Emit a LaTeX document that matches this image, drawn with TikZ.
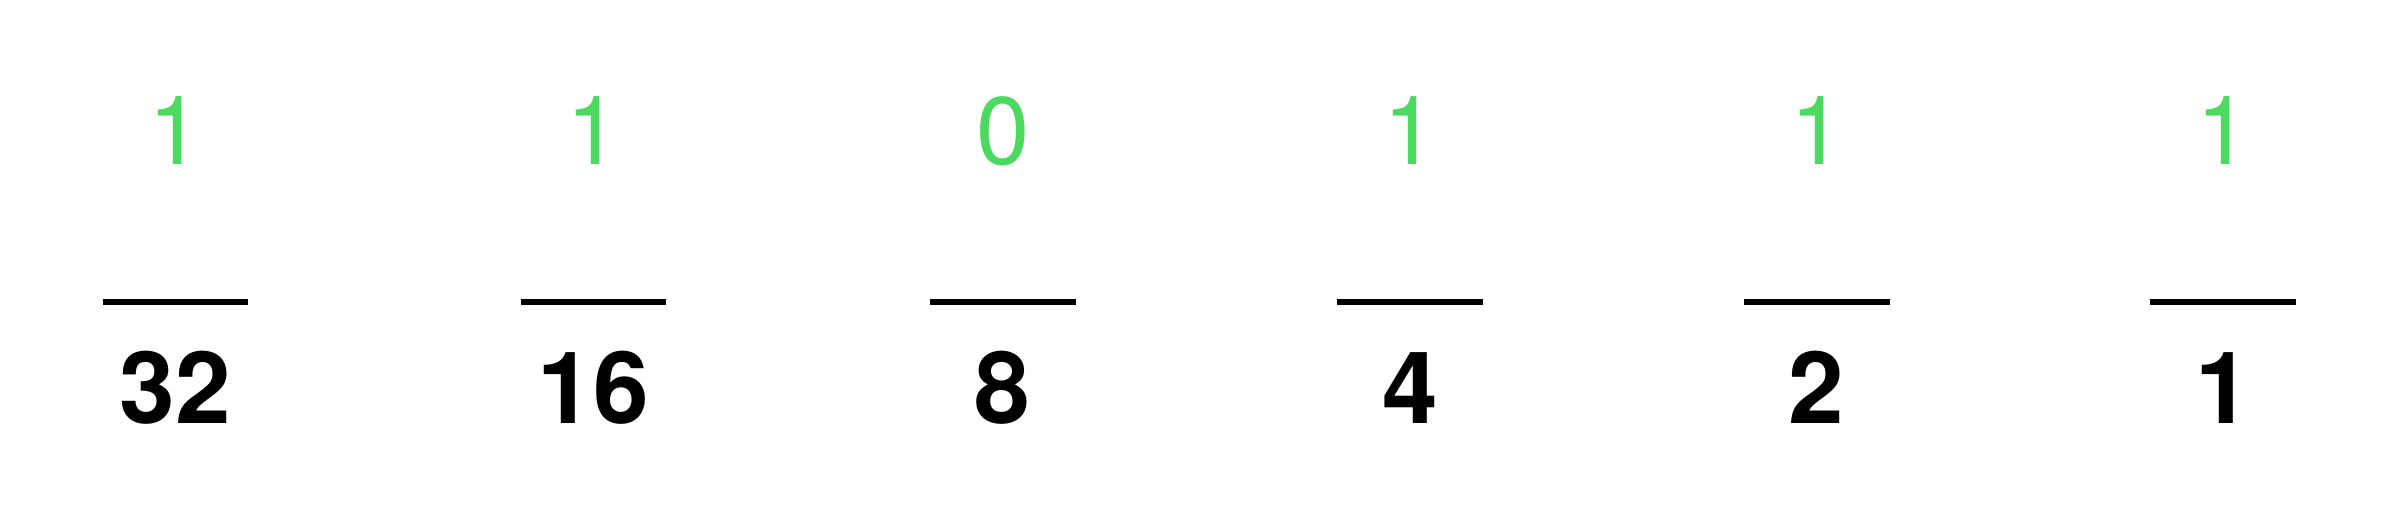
\documentclass[tikz,border=0pt]{standalone}
\usepackage{fontspec}
\setmainfont{TeX Gyre Heros}
\definecolor{bitgreen}{RGB}{76,217,96}
\begin{document}
\begin{tikzpicture}[x=0.5pt,y=-0.5pt,
  bit/.style={anchor=base,inner sep=0pt,text=bitgreen,font=\fontsize{47.9}{57}\selectfont},
  weight/.style={anchor=base,inner sep=0pt,text=black,font=\fontsize{50}{60}\bfseries\selectfont},
  bar/.style={line width=2.6pt,black}]
\useasboundingbox[fill=white] (0,0) rectangle (2387,523);
\foreach \i/\cx/\b/\w in {1/175.5/1/32, 2/593.5/1/16, 3/1002.7/0/8, 4/1410/1/4, 5/1816.7/1/2, 6/2223/1/1}{
  \node[bit] (t\i) at (\cx,165) {\b};
  \coordinate (l\i) at (\cx-72.8,302);
  \coordinate (r\i) at (\cx+72.8,302);
  \draw[bar] (l\i) -- (r\i);
  \node[weight] (d\i) at (\cx,423) {\w};
}
\end{tikzpicture}
\end{document}
